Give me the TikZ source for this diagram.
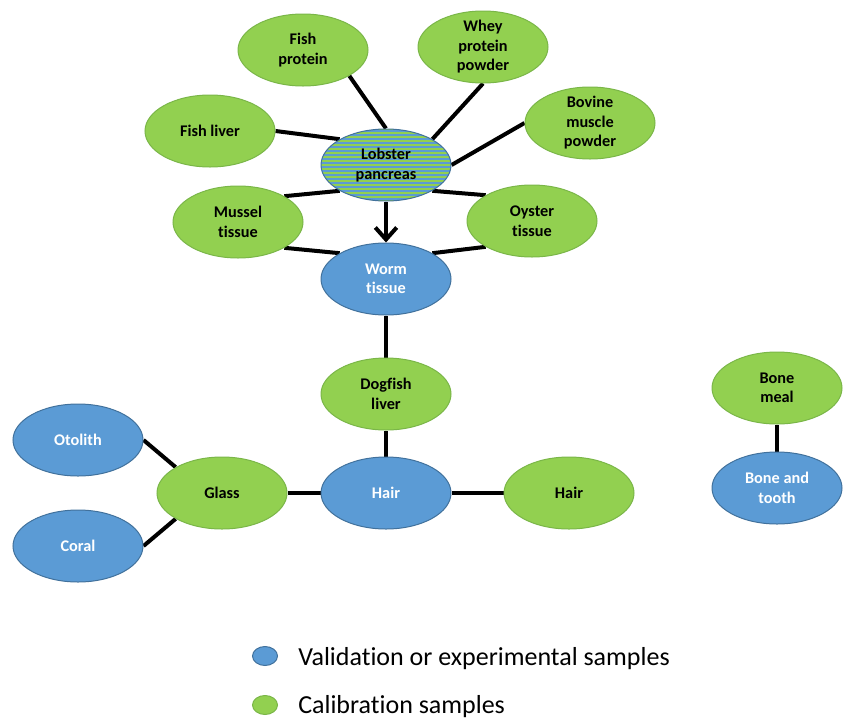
\documentclass[tikz,border=0pt]{standalone}
\usepackage{fontspec}
\setmainfont[Ligatures=NoCommon]{Carlito}
\usetikzlibrary{arrows.meta,shapes.geometric,backgrounds}
\definecolor{gfill}{HTML}{92D050}
\definecolor{gline}{HTML}{7AB648}
\definecolor{bfill}{HTML}{5B9BD5}
\definecolor{bline}{HTML}{41719C}
\begin{document}
\begin{tikzpicture}[x=0.75pt,y=-0.75pt,
  base/.style={ellipse, minimum width=97.5pt, minimum height=54pt, inner sep=0pt, line width=0.75pt},
  gnode/.style={base, fill=gfill, draw=gline},
  bnode/.style={base, fill=bfill, draw=bline},
  gtxt/.style={font=\fontsize{12.2}{14.6}\selectfont\bfseries, align=center, text=black, inner sep=0pt},
  btxt/.style={gtxt, text=white},
  link/.style={line width=3pt, draw=black},
  legtxt/.style={anchor=base west, font=\fontsize{19.5}{23}\selectfont, inner sep=0pt},
]
\useasboundingbox (0,0) rectangle (843,718);
\node[gnode, label={[gtxt]center:Fish\\protein}] (fp) at (303,50) {};
\node[gnode, label={[gtxt]center:Whey\\protein\\powder}] (whey) at (483,47) {};
\node[gnode, label={[gtxt]center:Bovine\\muscle\\powder}] (bov) at (590,123) {};
\node[gnode, label={[gtxt]center:Fish liver}] (fl) at (210,131) {};
\node[base, draw=bline, fill=gfill,
  path picture={\foreach \i in {0,...,19} \fill[bfill] ([yshift=\i*3pt+0.75pt]path picture bounding box.south west) rectangle ++(100pt,1.5pt);},
  label={[gtxt]center:Lobster\\pancreas}] (lp) at (386,165) {};
\node[gnode, label={[gtxt]center:Mussel\\tissue}] (mus) at (238,222) {};
\node[gnode, label={[gtxt]center:Oyster\\tissue}] (oys) at (532,221) {};
\node[bnode, label={[btxt]center:Worm\\tissue}] (worm) at (386,279) {};
\node[gnode, label={[gtxt]center:Dogfish\\liver}] (dog) at (386,394) {};
\node[bnode, label={[btxt]center:Hair}] (hairb) at (386,493) {};
\node[gnode, label={[gtxt]center:Hair}] (hairg) at (569,493) {};
\node[gnode, label={[gtxt]center:Glass}] (glass) at (222,493) {};
\node[bnode, label={[btxt]center:Otolith}] (oto) at (78,440) {};
\node[bnode, label={[btxt]center:Coral}] (coral) at (78,546) {};
\node[gnode, label={[gtxt]center:Bone\\meal}] (bm) at (777,388) {};
\node[bnode, label={[btxt]center:Bone and\\tooth}] (bt) at (777,488) {};
% legend
\node[bnode, minimum width=18.75pt, minimum height=14.25pt] (lb) at (265,656) {};
\node[gnode, minimum width=18.75pt, minimum height=14.25pt] (lg) at (265,705) {};
\node[legtxt] (lbt) at (298,665) {Validation or experimental samples};
\node[legtxt] (lgt) at (298,713) {Calibration samples};
\begin{scope}[on background layer]
\draw[link] (fp.south east) -- (lp.north);
\draw[link] (whey.south) -- (lp.north east);
\draw[link] (bov.west) -- (lp.east);
\draw[link] (fl.east) -- (lp.north west);
\draw[link] (mus.north east) -- (lp.south west);
\draw[link] (oys.north west) -- (lp.south east);
\draw[link] (mus.south east) -- (worm.north west);
\draw[link] (oys.south west) -- (worm.north east);
\draw[link] (worm.south) -- (dog.north);
\draw[link] (dog.south) -- (hairb.north);
\draw[link] (glass.east) -- (hairb.west);
\draw[link] (hairb.east) -- (hairg.west);
\draw[link] (oto.east) -- (glass.north west);
\draw[link] (coral.east) -- (glass.south west);
\draw[link] (bm.south) -- (bt.north);
\end{scope}
\draw[link, -{Straight Barb[length=9pt,width=16pt]}] (lp.south) -- (worm.north);
\end{tikzpicture}
\end{document}
